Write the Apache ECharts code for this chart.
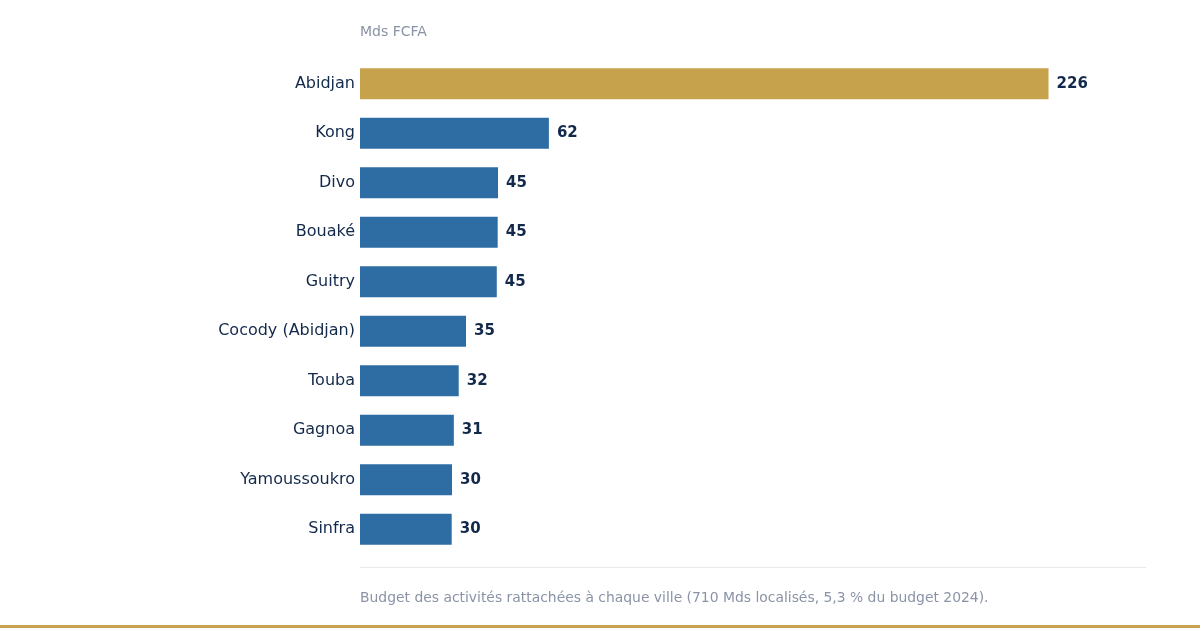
<!DOCTYPE html>
<html>
<head>
<meta charset="utf-8">
<script src="https://cdn.jsdelivr.net/npm/echarts@6/dist/echarts.min.js"></script>
<style>
  html, body { margin: 0; padding: 0; background: #fff; }
  #chart { width: 1200px; height: 630px; }
</style>
</head>
<body>
<div id="chart"></div>
<script>
// cities, top to bottom
const cities = ['Abidjan', 'Kong', 'Divo', 'Bouaké', 'Guitry', 'Cocody (Abidjan)', 'Touba', 'Gagnoa', 'Yamoussoukro', 'Sinfra'];
// budget in Mds FCFA
const budgets = [226, 62, 45.3, 45.2, 44.9, 34.8, 32.4, 30.8, 30.2, 30.1];
const highlight = 'Abidjan';

const unitLabel = 'Mds FCFA';
const footnote = 'Budget des activités rattachées à chaque ville (710 Mds localisés, 5,3 % du budget 2024).';

const font = 'DejaVu Sans';
const chart = echarts.init(document.getElementById('chart'), null, { renderer: 'canvas' });

chart.setOption({
  animation: false,
  backgroundColor: '#fff',
  textStyle: { fontFamily: font },
  grid: { left: 360, right: 54, top: 59, height: 495, containLabel: false },
  xAxis: {
    type: 'value',
    min: 0,
    max: 258,
    show: false
  },
  yAxis: {
    type: 'category',
    data: cities,
    inverse: true,
    axisLine: { show: false },
    axisTick: { show: false },
    splitLine: { show: false },
    axisLabel: { color: '#13294b', fontSize: 16, margin: 5, fontFamily: font }
  },
  series: [{
    type: 'bar',
    barWidth: 31,
    data: budgets.map((v, i) => ({
      value: v,
      itemStyle: { color: cities[i] === highlight ? '#c5a24b' : '#2e6da4' }
    })),
    label: {
      show: true,
      position: 'right',
      distance: 8,
      color: '#13294b',
      fontWeight: 'bold',
      fontSize: 15,
      fontFamily: font,
      formatter: p => Math.round(p.value)
    }
  }],
  graphic: [
    { type: 'text', left: 360, top: 25, style: { text: unitLabel, fill: '#8a93a6', fontSize: 14, fontFamily: font } },
    { type: 'line', shape: { x1: 360, y1: 567.5, x2: 1146, y2: 567.5 }, style: { stroke: '#e8e9ec', lineWidth: 1 } },
    { type: 'text', left: 360, top: 591, style: { text: footnote, fill: '#8a93a6', fontSize: 13.9, fontFamily: font } },
    { type: 'rect', shape: { x: 0, y: 625, width: 1200, height: 3 }, style: { fill: '#c5a24b' } }
  ]
});
</script>
</body>
</html>
